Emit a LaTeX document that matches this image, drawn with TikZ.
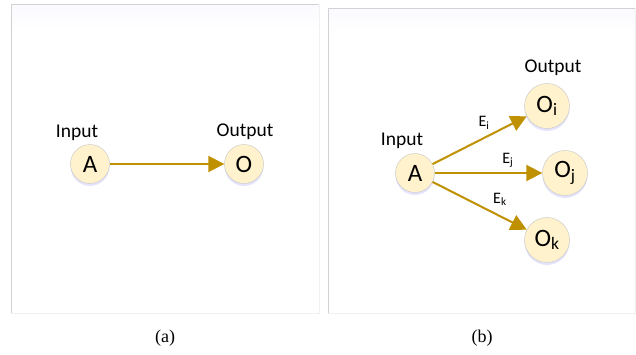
\documentclass[tikz,border=0pt]{standalone}
\usepackage{fontspec}
\setmainfont{Carlito}
\newfontfamily\capfont{Liberation Serif}
\usetikzlibrary{arrows.meta,shadows}
\definecolor{edgegold}{HTML}{BF9000}
\definecolor{nodefill}{HTML}{FFF2CC}
\definecolor{nodeline}{HTML}{C4C4C4}
\definecolor{framegray}{HTML}{D2D2D2}
\tikzset{
  vertex/.style={circle, draw=nodeline, fill=nodefill, inner sep=0pt,
    minimum size=39pt, font=\fontsize{25}{30}\selectfont,
    drop shadow={shadow xshift=0pt, shadow yshift=-2.5pt,
      fill=blue!35!white, opacity=0.3}},
  bigvertex/.style={vertex, minimum size=45pt},
  tag/.style={font=\fontsize{19.5}{22}\selectfont, anchor=base},
  flow/.style={draw=edgegold, line width=2pt,
    -{Triangle[length=16pt,width=16pt]}},
  elabel/.style={font=\fontsize{16}{18}\selectfont, anchor=base},
  panel/.style={framegray, line width=0.8pt},
  caption/.style={font=\capfont\fontsize{18}{20}\selectfont},
}
\begin{document}
\begin{tikzpicture}[x=1pt, y=-1pt]
  \useasboundingbox (0,0) rectangle (636,354);

  % frames
  \shade[top color=blue!2!white, bottom color=white] (11,4.5) rectangle (319,30);
  \shade[top color=blue!2!white, bottom color=white] (328,8) rectangle (635,34);
  \draw[framegray!30] (319,4.5) -- (319,313) -- (11,313);
  \draw[panel] (11,313) -- (11,4.5) -- (319,4.5);
  \draw[framegray!30] (635,8) -- (635,313) -- (328,313);
  \draw[panel] (328,313) -- (328,8) -- (635,8);

  % (a)
  \node[vertex] (a-A) at (90,164) {A};
  \node[vertex] (a-O) at (244,164) {O};
  \node[tag] (a-in) at (77,137) {Input};
  \node[tag] (a-out) at (245,136) {Output};
  \draw[flow] (a-A) -- (a-O);
  \node[caption] (cap-a) at (165,338) {(a)};

  % (b)
  \node[vertex] (b-A) at (415,173) {A};
  \node[bigvertex] (b-Oi) at (547,106) {O\textsubscript{i}};
  \node[bigvertex] (b-Oj) at (565,173) {O\textsubscript{j}};
  \node[bigvertex] (b-Ok) at (547,240) {O\textsubscript{k}};
  \node[tag] (b-in) at (402,145) {Input};
  \node[tag] (b-out) at (553,72) {Output};
  \draw[flow] (b-A) -- (b-Oi) node[elabel, pos=0.546, yshift=11.3pt] {E\textsubscript{i}};
  \draw[flow] (b-A) -- (b-Oj) node[elabel, pos=0.68, yshift=9.7pt] {E\textsubscript{j}};
  \draw[flow] (b-A) -- (b-Ok) node[elabel, pos=0.715, yshift=13.1pt] {E\textsubscript{k}};
  \node[caption] (cap-b) at (482,338) {(b)};
\end{tikzpicture}
\end{document}
